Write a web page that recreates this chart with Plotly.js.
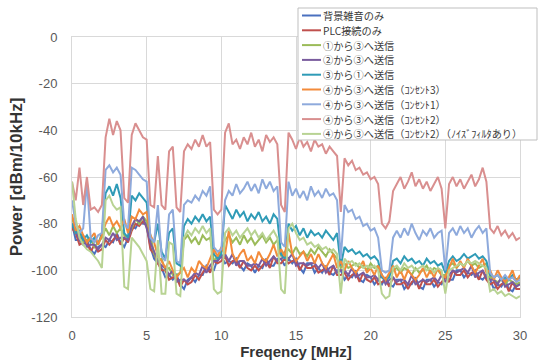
<!DOCTYPE html>
<html>
<head>
<meta charset="utf-8">
<script src="https://cdn.plot.ly/plotly-3.0.1.min.js"></script>
<style>
html,body{margin:0;padding:0;background:#fff;}
#chart{width:541px;height:363px;}
</style>
</head>
<body>
<div id="chart"></div>
<script>
// Frequency grid [MHz]
const freq = [
0,0.25,0.5,0.75, 1,1.25,1.5,1.75, 2,2.25,2.5,2.75, 3,3.25,3.5,3.75, 4,4.25,4.5,4.75,
5,5.25,5.5,5.75, 6,6.25,6.5,6.75, 7,7.25,7.5,7.75, 8,8.25,8.5,8.75, 9,9.25,9.5,9.75,
10,10.25,10.5,10.75, 11,11.25,11.5,11.75, 12,12.25,12.5,12.75, 13,13.25,13.5,13.75, 14,14.25,14.5,14.75,
15,15.25,15.5,15.75, 16,16.25,16.5,16.75, 17,17.25,17.5,17.75, 18,18.25,18.5,18.75, 19,19.25,19.5,19.75,
20,20.25,20.5,20.75, 21,21.25,21.5,21.75, 22,22.25,22.5,22.75, 23,23.25,23.5,23.75, 24,24.25,24.5,24.75,
25,25.25,25.5,25.75, 26,26.25,26.5,26.75, 27,27.25,27.5,27.75, 28,28.25,28.5,28.75, 29,29.25,29.5,29.75,
30];

// 背景雑音のみ
const background = [
-80,-87,-87,-89, -87,-91,-93,-90, -89,-90,-87,-88, -84,-88,-90,-86, -81,-82,-79,-80,
-80,-90,-95,-97, -99,-103,-102,-104, -102,-106,-108,-104, -103,-105,-102,-102, -98,-100,-100,-95,
-94,-97,-96,-97, -95,-98,-100,-97, -98,-101,-98,-99, -95,-98,-98,-95, -95,-98,-95,-97,
-95,-99,-101,-97, -97,-101,-99,-101, -98,-101,-102,-100, -100,-104,-102,-103, -100,-104,-105,-102,
-103,-106,-104,-106, -103,-106,-107,-104, -104,-108,-106,-106, -103,-107,-108,-104, -104,-107,-105,-106,
-102,-104,-104,-100, -100,-103,-101,-102, -100,-103,-104,-102, -104,-108,-106,-107, -104,-108,-109,-106,
-106];

// PLC接続のみ
const plcOnly = [
-82,-84,-89,-88, -88,-92,-89,-92, -91,-87,-89,-87, -85,-89,-86,-88, -83,-80,-81,-79,
-81,-91,-93,-97, -100,-100,-104,-103, -103,-107,-104,-106, -105,-102,-104,-101, -99,-101,-96,-97,
-96,-94,-98,-96, -96,-99,-96,-99, -100,-98,-100,-98, -96,-99,-94,-97, -97,-95,-97,-96,
-96,-100,-97,-99, -99,-98,-101,-100, -99,-102,-98,-102, -102,-101,-104,-102, -101,-105,-101,-104,
-105,-103,-106,-105, -104,-107,-103,-106, -106,-105,-108,-105, -104,-108,-104,-106, -106,-104,-107,-105,
-103,-105,-100,-102, -102,-100,-103,-101, -101,-104,-100,-104, -106,-105,-108,-106, -105,-109,-105,-108,
-108];

// ①から③へ送信
const send1to3 = [
-77,-84,-84,-88, -87,-86,-90,-88, -86,-82,-85,-81, -84,-82,-85,-86, -82,-78,-80,-77,
-79,-85,-93,-96, -95,-100,-99,-102, -102,-101,-87,-85, -88,-86,-89,-85, -87,-86,-96,-94,
-92,-87,-85,-88, -86,-89,-85,-88, -86,-89,-87,-85, -88,-86,-89,-87, -94,-92,-91,-93,
-90,-93,-92,-94, -91,-93,-90,-92, -94,-91,-93,-95, -99,-97,-99,-98, -97,-99,-98,-100,
-97,-99,-98,-103, -104,-102,-100,-99, -101,-99,-100,-102, -99,-101,-100,-98, -101,-99,-100,-102,
-102,-98,-97,-99, -97,-98,-96,-98, -97,-99,-98,-97, -103,-104,-105,-104, -106,-104,-105,-106,
-105];

// ②から③へ送信
const send2to3 = [
-80,-83,-87,-85, -90,-89,-89,-91, -89,-86,-87,-84, -87,-86,-86,-87, -81,-78,-79,-77,
-82,-88,-92,-96, -98,-99,-102,-100, -105,-104,-104,-105, -103,-101,-102,-98, -101,-98,-96,-96,
-94,-93,-96,-93, -98,-96,-96,-98, -98,-97,-98,-95, -98,-96,-94,-96, -95,-94,-95,-93,
-98,-97,-97,-98, -97,-97,-99,-97, -101,-99,-98,-101, -100,-100,-102,-99, -103,-102,-101,-103,
-103,-102,-104,-102, -106,-104,-103,-105, -104,-104,-106,-102, -106,-105,-104,-105, -104,-103,-105,-102,
-105,-102,-100,-101, -100,-99,-101,-98, -103,-101,-100,-103, -104,-104,-106,-103, -107,-106,-105,-107,
-106];

// ③から①へ送信
const send3to1 = [
-80,-84,-83,-87, -85,-88,-86,-89, -84,-67,-64,-68, -63,-69,-84,-86, -68,-70,-67,-69,
-71,-86,-88,-80, -92,-95,-84,-82, -97,-98,-81,-78, -80,-77,-79,-76, -79,-77,-93,-95,
-93,-72,-75,-78, -74,-77,-75,-79, -76,-78,-75,-79, -77,-80,-76,-78, -93,-95,-80,-83,
-81,-85,-82,-86, -83,-85,-84,-86, -83,-85,-87,-84, -98,-90,-92,-91, -93,-92,-94,-93,
-95,-94,-96,-103, -104,-103,-96,-95, -97,-94,-96,-95, -97,-96,-98,-95, -97,-96,-98,-97,
-101,-96,-94,-96, -95,-93,-95,-94, -93,-95,-94,-96, -102,-103,-102,-104, -103,-104,-102,-104,
-103];

// ④から③へ送信（ｺﾝｾﾝﾄ3）
const send4to3outlet3 = [
-76,-83,-81,-85, -88,-86,-84,-89, -85,-80,-77,-81, -79,-82,-78,-84, -77,-78,-74,-76,
-75,-85,-88,-94, -96,-99,-96,-100, -103,-101,-99,-103, -99,-101,-96,-98, -99,-95,-91,-94,
-90,-93,-83,-93, -96,-93,-91,-96, -94,-97,-92,-95, -96,-93,-89,-94, -91,-94,-84,-93,
-96,-94,-92,-96, -93,-97,-93,-97, -99,-96,-93,-99, -96,-100,-96,-99, -101,-99,-96,-101,
-99,-102,-98,-102, -104,-101,-98,-103, -100,-104,-100,-102, -104,-102,-99,-103, -100,-103,-99,-102,
-103,-99,-95,-99, -96,-99,-95,-98, -101,-98,-95,-101, -100,-104,-100,-103, -105,-103,-100,-105,
-102];

// ④から③へ送信（ｺﾝｾﾝﾄ1）
const send4to3outlet1 = [
-70,-80,-84,-82, -62,-86,-88,-85, -84,-57,-55,-58, -56,-59,-80,-82, -56,-57,-59,-61,
-62,-86,-88,-72, -94,-96,-76,-74, -96,-97,-72,-70, -71,-68,-70,-66, -68,-64,-90,-92,
-91,-70,-66,-68, -63,-67,-65,-62, -66,-63,-67,-61, -65,-62,-66,-64, -88,-90,-62,-68,
-65,-69,-66,-70, -64,-68,-66,-69, -65,-68,-67,-70, -95,-72,-75,-74, -78,-77,-81,-80,
-83,-82,-86,-100, -101,-100,-86,-83, -86,-82,-85,-80, -84,-87,-83,-85, -82,-86,-84,-83,
-100,-84,-82,-85, -81,-84,-82,-86, -83,-81,-84,-82, -101,-103,-102,-104, -102,-104,-103,-105,
-104];

// ④から③へ送信（ｺﾝｾﾝﾄ2）
const send4to3outlet2 = [
-62,-70,-56,-72, -60,-74,-73,-75, -72,-43,-35,-42, -36,-40,-69,-71, -42,-37,-40,-43,
-44,-72,-73,-51, -72,-74,-49,-47, -73,-75,-49,-46, -48,-44,-47,-42, -47,-45,-74,-76,
-74,-41,-37,-46, -44,-48,-43,-46, -41,-47,-44,-49, -42,-45,-43,-46, -72,-75,-41,-44,
-48,-43,-47,-45, -49,-44,-47,-46, -50,-47,-49,-51, -75,-52,-55,-53, -57,-56,-59,-58,
-61,-60,-63,-80, -82,-79,-66,-63, -60,-65,-62,-58, -64,-61,-65,-62, -66,-63,-60,-65,
-82,-63,-60,-64, -61,-65,-62,-59, -64,-61,-56,-62, -82,-84,-81,-85, -83,-86,-84,-87,
-86];

// ④から③へ送信（ｺﾝｾﾝﾄ2）（ﾉｲｽﾞﾌｨﾙﾀあり）
const send4to3outlet2filter = [
-62,-78,-86,-89, -91,-92,-94,-96, -99,-70,-68,-72, -74,-73,-107,-108, -86,-88,-90,-93,
-96,-108,-109,-87, -110,-110,-88,-89, -110,-111,-86,-83, -85,-82,-84,-81, -84,-82,-108,-110,
-109,-84,-82,-85, -83,-86,-84,-82, -85,-83,-86,-84, -87,-85,-83,-86, -108,-110,-82,-80,
-84,-87,-86,-89, -88,-90,-89,-91, -90,-92,-91,-93, -110,-95,-97,-96, -98,-97,-99,-98,
-99,-98,-100,-110, -112,-111,-99,-98, -100,-97,-99,-98, -100,-99,-98,-100, -99,-101,-99,-100,
-110,-100,-99,-98, -97,-98,-96,-97, -96,-97,-98,-99, -109,-108,-110,-109, -111,-110,-111,-112,
-111];

const seriesNames = [
  '背景雑音のみ',
  'PLC接続のみ',
  '①から③へ送信',
  '②から③へ送信',
  '③から①へ送信',
  '④から③へ送信（ｺﾝｾﾝﾄ3）',
  '④から③へ送信（ｺﾝｾﾝﾄ1）',
  '④から③へ送信（ｺﾝｾﾝﾄ2）',
  '④から③へ送信（ｺﾝｾﾝﾄ2）（ﾉｲｽﾞﾌｨﾙﾀあり）'
];
const seriesValues = [background, plcOnly, send1to3, send2to3, send3to1,
  send4to3outlet3, send4to3outlet1, send4to3outlet2, send4to3outlet2filter];
const seriesColors = ['#4a70bf','#c0504d','#9bbb59','#7a5c9e','#2f9bb7',
  '#f38b3b','#8eaadc','#d98f8f','#b8d393'];

const xTicks = [0,5,10,15,20,25,30];
const yTicks = [0,-20,-40,-60,-80,-100,-120];

const traces = seriesValues.map((vals, i) => ({
  type: 'scatter', mode: 'lines', x: freq, y: vals, name: seriesNames[i],
  line: {color: seriesColors[i], width: 2}, showlegend: false, hoverinfo: 'skip'
}));

// plot area in pixels
const W = 541, H = 363, L = 72, R = 520, T = 37, B = 317;
const px2x = p => (p - L) / (R - L);
const py2y = p => (B - p) / (B - T);

const shapes = [{
  type: 'rect', xref: 'paper', yref: 'paper', layer: 'above',
  x0: px2x(298), x1: px2x(537), y0: py2y(140), y1: py2y(8),
  fillcolor: '#ffffff', line: {color: '#bfbfbf', width: 1}
}];
const annotations = [];
seriesNames.forEach((nm, i) => {
  const cy = 15.5 + i * 14.8;
  shapes.push({type: 'line', xref: 'paper', yref: 'paper', layer: 'above',
    x0: px2x(302), x1: px2x(321), y0: py2y(cy), y1: py2y(cy),
    line: {color: seriesColors[i], width: 2}});
  annotations.push({xref: 'paper', yref: 'paper', x: px2x(322), y: py2y(cy),
    xanchor: 'left', yanchor: 'middle', showarrow: false, text: nm, borderpad: 0,
    font: {family: 'Noto Sans CJK JP, sans-serif', size: 10.2, color: '#3a3a3a'}});
});

const axisFont = {family: 'Liberation Sans, Arial, sans-serif', size: 13, color: '#595959'};
const layout = {
  width: W, height: H,
  margin: {l: L, r: W - R, t: T, b: H - B, pad: 0},
  paper_bgcolor: '#ffffff', plot_bgcolor: '#ffffff',
  showlegend: false,
  xaxis: {
    range: [0, 30], tickvals: xTicks, ticktext: xTicks.map(String),
    showgrid: true, gridcolor: '#d9d9d9', gridwidth: 1,
    showline: true, linecolor: '#d9d9d9', linewidth: 1, mirror: true,
    zeroline: false, ticks: '', tickfont: axisFont, ticklabelstandoff: 6,
    title: {text: 'Freqency [MHz]', standoff: 4,
      font: {family: 'Liberation Sans, Arial, sans-serif', size: 15, color: '#333333', weight: 'bold'}}
  },
  yaxis: {
    range: [-120, 0], tickvals: yTicks, ticktext: yTicks.map(String),
    showgrid: true, gridcolor: '#d9d9d9', gridwidth: 1,
    showline: true, linecolor: '#d9d9d9', linewidth: 1, mirror: true,
    zeroline: false, ticks: '', tickfont: axisFont, ticklabelstandoff: 11,
    title: {text: 'Power [dBm/10kHz]', standoff: 4,
      font: {family: 'Liberation Sans, Arial, sans-serif', size: 17, color: '#333333', weight: 'bold'}}
  },
  shapes: shapes,
  annotations: annotations
};

Plotly.newPlot('chart', traces, layout, {staticPlot: true, displayModeBar: false});
</script>
</body>
</html>
